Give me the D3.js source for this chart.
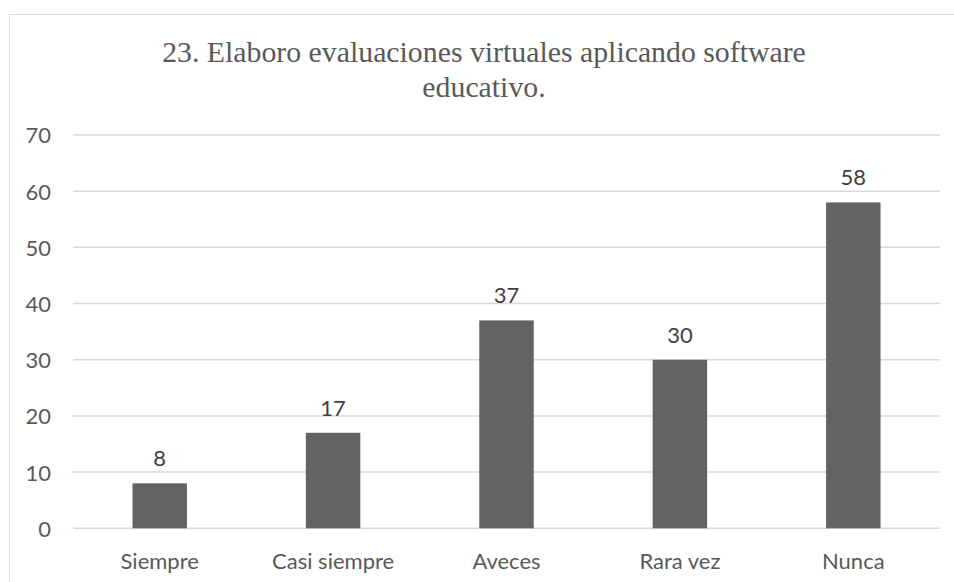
<!DOCTYPE html>
<html>
<head>
<meta charset="utf-8">
<script src="https://cdn.jsdelivr.net/npm/d3@7"></script>
<style>
  html, body { margin: 0; padding: 0; background: #fff; }
  svg { display: block; }
</style>
</head>
<body>
<svg id="chart" width="954" height="582"></svg>
<script>
const titleLines = ["23. Elaboro evaluaciones virtuales aplicando software", "educativo."];
const categories = ["Siempre", "Casi siempre", "Aveces", "Rara vez", "Nunca"];
const values = [8, 17, 37, 30, 58];
const yTicks = [0, 10, 20, 30, 40, 50, 60, 70];

const svg = d3.select("#chart");
const W = 954, H = 582;
const plot = { left: 73, right: 940, top: 135, bottom: 528.3 };
const sans = "Lato, 'Open Sans', sans-serif";
const textColor = "#595959";

// chart border
svg.append("rect")
  .attr("x", 9.5).attr("y", 14.5)
  .attr("width", W).attr("height", H)
  .attr("fill", "#fff").attr("stroke", "#d9d9d9").attr("stroke-width", 1);

// title
svg.append("text")
  .attr("x", 481).attr("y", 62)
  .attr("text-anchor", "middle")
  .attr("font-family", "'Liberation Serif', 'Times New Roman', serif")
  .attr("font-size", 29.8)
  .attr("fill", textColor)
  .selectAll("tspan").data(titleLines).join("tspan")
  .attr("x", 484)
  .attr("dy", (d, i) => i === 0 ? 0 : 35)
  .text(d => d);

const y = d3.scaleLinear().domain([0, 70]).range([plot.bottom, plot.top]);
const x = d3.scaleBand().domain(categories).range([plot.left, plot.right])
  .paddingInner(0.686).paddingOuter(0.343);

// gridlines
svg.append("g").selectAll("line").data(yTicks).join("line")
  .attr("x1", plot.left).attr("x2", plot.right)
  .attr("y1", d => y(d)).attr("y2", d => y(d))
  .attr("stroke", "#d9d9d9").attr("stroke-width", 1.5);

// y axis labels
const yAxis = d3.axisLeft(y).tickValues(yTicks).tickSize(0).tickPadding(0);
const gy = svg.append("g").attr("transform", "translate(51,0)").call(yAxis);
gy.select(".domain").remove();
gy.selectAll("text")
  .attr("font-family", sans).attr("font-size", 22)
  .attr("fill", textColor).attr("dy", "0.36em");

// bars
svg.append("g").selectAll("rect").data(values).join("rect")
  .attr("x", (d, i) => x(categories[i]))
  .attr("y", d => y(d))
  .attr("width", x.bandwidth())
  .attr("height", d => y(0) - y(d))
  .attr("fill", "#636363");

// data labels
svg.append("g").selectAll("text").data(values).join("text")
  .attr("x", (d, i) => x(categories[i]) + x.bandwidth() / 2)
  .attr("y", d => y(d) - 17)
  .attr("text-anchor", "middle")
  .attr("font-family", sans).attr("font-size", 22)
  .attr("fill", "#404040")
  .text(d => d);

// x axis labels
const xAxis = d3.axisBottom(x).tickSize(0).tickPadding(0);
const gx = svg.append("g").attr("transform", "translate(0,569)").call(xAxis);
gx.select(".domain").remove();
gx.selectAll("text")
  .attr("font-family", sans).attr("font-size", 22)
  .attr("fill", textColor).attr("dy", "0");
</script>
</body>
</html>
